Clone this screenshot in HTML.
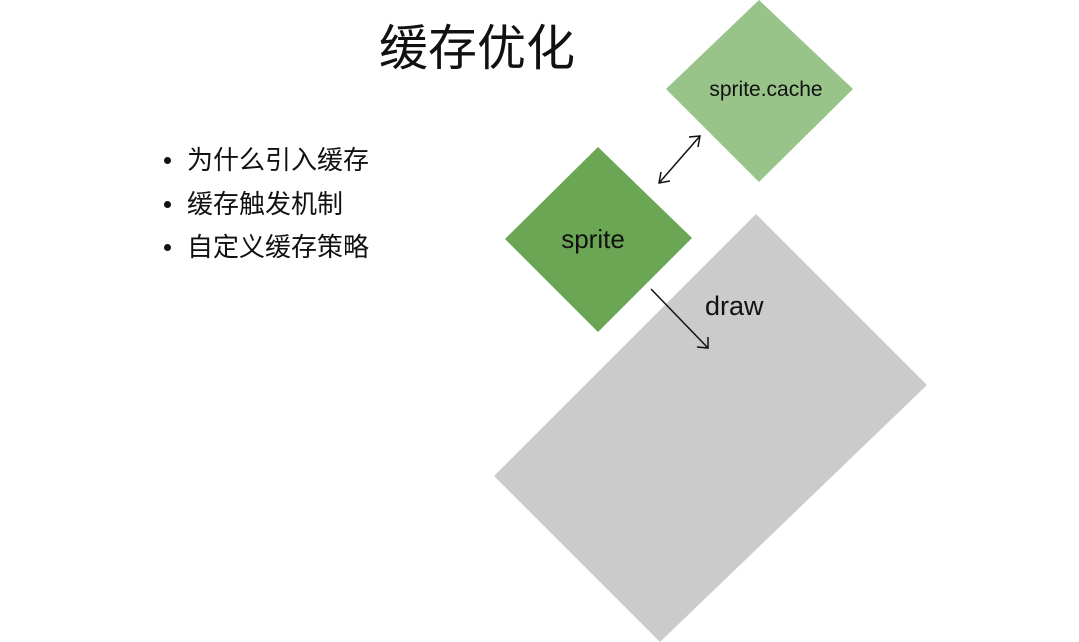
<!DOCTYPE html>
<html><head><meta charset="utf-8"><style>
html,body{margin:0;padding:0;background:#fff;}
body{width:1079px;height:642px;position:relative;overflow:hidden;font-family:"Liberation Sans","Noto Sans CJK SC",sans-serif;}
.t{position:absolute;color:#111;white-space:nowrap;}
.b{position:absolute;width:7px;height:7px;border-radius:50%;background:#111;}
</style></head><body>
<svg width="1079" height="642" style="position:absolute;left:0;top:0">
<polygon points="756,214 927,385 660,642 494,476" fill="#cbcbcb"/>
<polygon points="759,0 853,89 759,182 666,89" fill="#98c389"/>
<polygon points="598,147 692,238 598,332 505,239" fill="#6aa653"/>
<g stroke="#111" stroke-width="1.5" fill="none">
<line x1="659" y1="183" x2="700" y2="136"/>
<polyline points="661,172 659,183 670,181"/>
<polyline points="689,137 700,136 698,147"/>
<line x1="651" y1="289" x2="708" y2="348"/>
<polyline points="697,347 708,348 708,337"/>
</g>
<text x="766" y="96" font-size="21" text-anchor="middle" font-family="Liberation Sans,sans-serif" fill="#111">sprite.cache</text>
<text x="593" y="248" font-size="26" text-anchor="middle" font-family="Liberation Sans,sans-serif" fill="#111">sprite</text>
<text x="705" y="315" font-size="27" font-family="Liberation Sans,sans-serif" fill="#111">draw</text>
</svg>
<div class="t" style="left:379px;top:9px;font-size:49px;">缓存优化</div>
<div class="b" style="left:164px;top:157px;"></div>
<div class="b" style="left:164px;top:201px;"></div>
<div class="b" style="left:164px;top:244px;"></div>
<div class="t" style="left:187px;top:143px;font-size:26px;line-height:34px;">为什么引入缓存</div>
<div class="t" style="left:187px;top:187px;font-size:26px;line-height:34px;">缓存触发机制</div>
<div class="t" style="left:187px;top:230px;font-size:26px;line-height:34px;">自定义缓存策略</div>
</body></html>
